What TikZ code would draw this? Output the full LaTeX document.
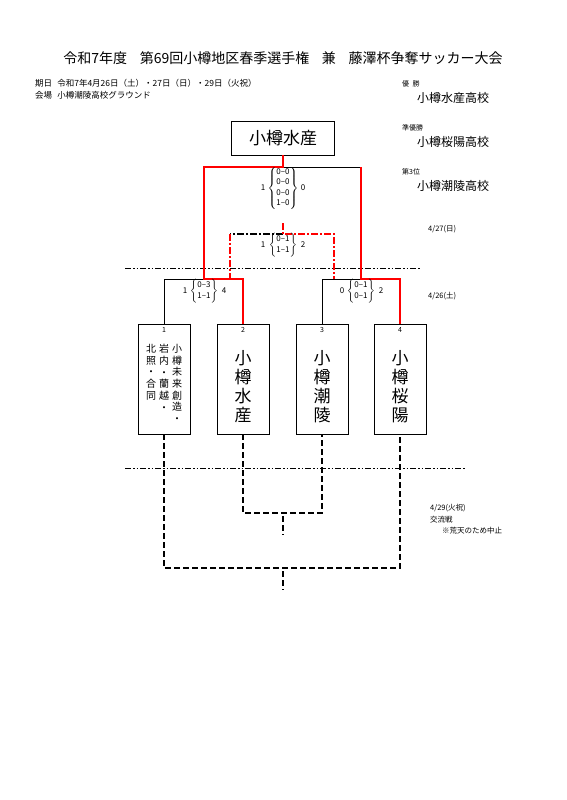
\documentclass[tikz,border=0pt]{standalone}
\usepackage{fontspec}
\setmainfont{Noto Sans CJK JP}
\usepackage{xcolor}
\usepackage{tikz}
\usetikzlibrary{positioning}

\begin{document}
\begin{tikzpicture}[x=1pt,y=-1pt]
  \tikzstyle{champbox} = [draw, line width=0.8pt, minimum width=103pt,
    minimum height=34pt, inner sep=0pt, font=\fontsize{17}{20}\selectfont]
  \tikzstyle{team} = [draw, line width=0.8pt, minimum width=52pt,
    minimum height=110pt, inner sep=0pt]
  \tikzstyle{teamtxt} = [align=center, inner sep=0pt,
    font=\fontsize{17}{19}\selectfont]
  \tikzstyle{coltxt} = [align=center, anchor=north, inner sep=0pt,
    font=\fontsize{10}{11.7}\selectfont]
  \tikzstyle{info} = [anchor=west, inner sep=0pt, font=\fontsize{8.5}{10}\selectfont]
  \tikzstyle{result} = [anchor=west, inner sep=0pt, font=\fontsize{12}{14}\selectfont]
  \tikzstyle{score} = [inner sep=0pt, font=\fontsize{8}{10.3}\selectfont]
  \tikzstyle{seed} = [inner sep=0pt, font=\fontsize{7}{8}\selectfont]
  \tikzstyle{lose} = [line width=0.8pt]
  \tikzstyle{win} = [red, line width=2.6pt]
  \tikzstyle{tlose} = [line width=1.6pt, dash pattern=on 7pt off 2pt on 2pt off 2pt]
  \tikzstyle{twin} = [red, line width=1.6pt, dash pattern=on 7pt off 2pt on 2pt off 2pt]
  \tikzstyle{sep} = [line width=0.6pt,
    dash pattern=on 6pt off 2pt on 1.5pt off 2pt on 1.5pt off 2pt]
  \tikzstyle{cancel} = [line width=1.6pt, dash pattern=on 6pt off 3pt]

  \useasboundingbox (0,0) rectangle (566,800);

  % heading
  \node[font=\fontsize{14}{16}\selectfont] (title) at (283,58)
    {令和7年度\hspace{0.9em}第69回小樽地区春季選手権\hspace{0.9em}兼\hspace{0.9em}藤澤杯争奪サッカー大会};
  \node[info] (date) at (35,83)
    {期日\hspace{0.6em}令和7年4月26日（土）・27日（日）・29日（火祝）};
  \node[info] (venue) at (35,95) {会場\hspace{0.6em}小樽潮陵高校グラウンド};

  \node[info, font=\fontsize{7}{9}\selectfont] (lbl1) at (402,84) {優\hspace{0.5em}勝};
  \node[result] (res1) at (417,98) {小樽水産高校};
  \node[info, font=\fontsize{7}{9}\selectfont] (lbl2) at (402,128) {準優勝};
  \node[result] (res2) at (417,142) {小樽桜陽高校};
  \node[info, font=\fontsize{7}{9}\selectfont] (lbl3) at (402,172) {第3位};
  \node[result] (res3) at (417,186) {小樽潮陵高校};

  \node[info, font=\fontsize{7.5}{9}\selectfont] (day2) at (428,229) {4/27(日)};
  \node[info, font=\fontsize{7.5}{9}\selectfont] (day1) at (428,296) {4/26(土)};
  \node[info, font=\fontsize{7.5}{9}\selectfont] (day3) at (430,508) {4/29(火祝)};
  \node[info, font=\fontsize{7.5}{9}\selectfont] (cup) at (430,520) {交流戦};
  \node[info, font=\fontsize{7.5}{9}\selectfont] (note) at (442,531) {※荒天のため中止};

  % boxes
  \node[champbox] (champ) at (283,138) {小樽水産};

  \node[team] (t1) at (164,379) {};
  \node[team] (t2) at (243,379) {};
  \node[team] (t3) at (322,379) {};
  \node[team] (t4) at (400,379) {};

  \node[seed] (n1) at (164,330) {1};
  \node[seed] (n2) at (243,330) {2};
  \node[seed] (n3) at (322,330) {3};
  \node[seed] (n4) at (400,330) {4};

  \node[coltxt] (c1a) at (177,344) {小\\樽\\未\\来\\創\\造\\・};
  \node[coltxt] (c1b) at (164,344) {岩\\内\\・\\蘭\\越\\・};
  \node[coltxt] (c1c) at (151,344) {北\\照\\・\\合\\同};
  \node[teamtxt] (x2) at (243,387) {小\\樽\\水\\産};
  \node[teamtxt] (x3) at (322,387) {小\\樽\\潮\\陵};
  \node[teamtxt] (x4) at (400,387) {小\\樽\\桜\\陽};

  % bracket points
  \coordinate (sL) at (204,279);
  \coordinate (sR) at (361,279);
  \coordinate (fin) at (283,167);
  \coordinate (thd) at (283,234);
  \coordinate (thtop) at (283,223);
  \coordinate (thL) at (230,279);
  \coordinate (thR) at (334,279);
  \coordinate (xA) at (283,513);
  \coordinate (xAend) at (283,535);
  \coordinate (xB) at (283,568);
  \coordinate (xBend) at (283,590);

  \draw[sep] (125,268) -- (420,268);
  \draw[sep] (125,468) -- (466,468);

  \draw[lose] (t1.north) |- (sL);
  \draw[lose] (t3.north) |- (sR);
  \draw[lose] (fin) -- (sR |- fin);
  \draw[tlose] (thd) -- (thL |- thd);
  \draw[twin] (thL |- thd) -- (thL);
  \draw[twin] (thtop) -- (thd) -| (thR);
  \draw[win] (t2.north) |- (sL) |- (fin) -- (champ.south);
  \draw[win] (t4.north) |- (sR) -- (sR |- fin);

  \draw[cancel] (t2.south) |- (xA) -| (t3.south);
  \draw[cancel, dash phase=6pt] (xA) -- (xAend);
  \draw[cancel] (t1.south) |- (xB) -| (t4.south);
  \draw[cancel, dash phase=6pt] (xB) -- (xBend);

  % scores
  \node[score] (sc0a) at (263,188) {1};
  \node[score] (sc0) at (283,188)
    {$\left\{\begin{tabular}{@{}c@{}}0–0\\0–0\\0–0\\1–0\end{tabular}\right\}$};
  \node[score] (sc0b) at (303,188) {0};

  \node[score] (sc3a) at (263,245) {1};
  \node[score] (sc3) at (283,245)
    {$\left\{\begin{tabular}{@{}c@{}}0–1\\1–1\end{tabular}\right\}$};
  \node[score] (sc3b) at (303,245) {2};

  \node[score] (scLa) at (185,291) {1};
  \node[score] (scL) at (204,291)
    {$\left\{\begin{tabular}{@{}c@{}}0–3\\1–1\end{tabular}\right\}$};
  \node[score] (scLb) at (224,291) {4};

  \node[score] (scRa) at (342,291) {0};
  \node[score] (scR) at (361,291)
    {$\left\{\begin{tabular}{@{}c@{}}0–1\\0–1\end{tabular}\right\}$};
  \node[score] (scRb) at (381,291) {2};
\end{tikzpicture}
\end{document}
